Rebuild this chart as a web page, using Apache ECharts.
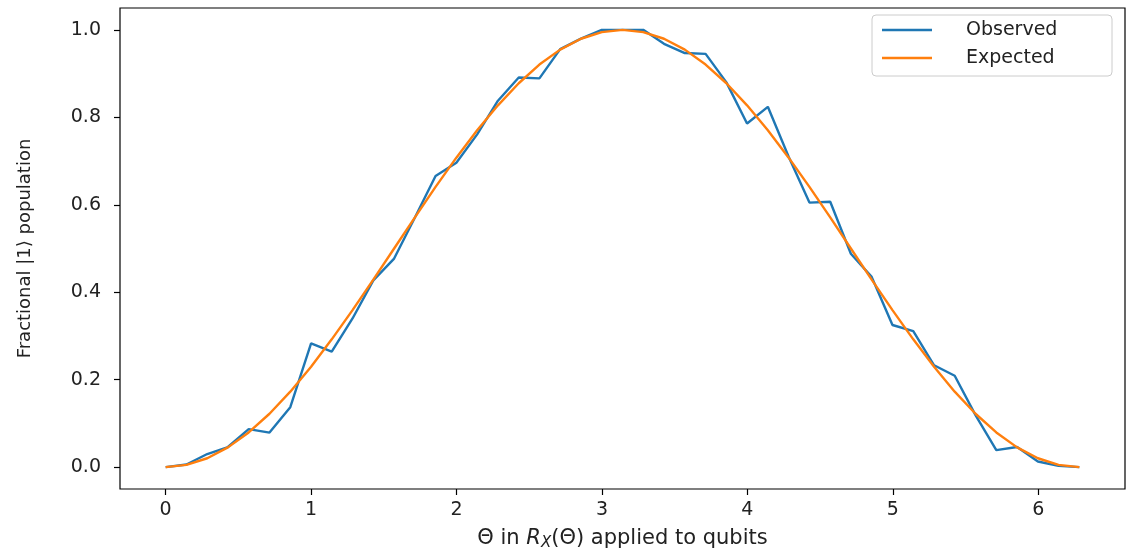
<!DOCTYPE html>
<html>
<head>
<meta charset="utf-8">
<script src="https://cdn.jsdelivr.net/npm/echarts@6/dist/echarts.min.js"></script>
<style>
    html, body { margin: 0; padding: 0; background: #fff; }
    #chart { width: 1129px; height: 552px; }
</style>
</head>
<body>
<div id="chart"></div>
<script>
// 横轴 theta (0 .. 2pi, 45 points)
var thetas = [0.000, 0.143, 0.286, 0.428, 0.571, 0.714, 0.857, 1.000, 1.142, 1.285, 1.428,
    1.571, 1.714, 1.856, 1.999, 2.142, 2.285, 2.428, 2.570, 2.713, 2.856, 2.999,
    3.142, 3.284, 3.427, 3.570, 3.713, 3.856, 3.998, 4.141, 4.284, 4.427, 4.570,
    4.712, 4.855, 4.998, 5.141, 5.284, 5.426, 5.569, 5.712, 5.855, 5.998, 6.140, 6.283];

// 观测值
var observed = [0.000, 0.006, 0.030, 0.046, 0.087, 0.079, 0.137, 0.283, 0.264, 0.340, 0.427,
    0.477, 0.571, 0.666, 0.696, 0.761, 0.838, 0.891, 0.889, 0.956, 0.980, 1.000,
    1.000, 1.000, 0.968, 0.947, 0.945, 0.880, 0.786, 0.824, 0.710, 0.605, 0.607,
    0.488, 0.435, 0.325, 0.311, 0.233, 0.209, 0.119, 0.039, 0.046, 0.013, 0.003, 0.000];

// 期望值
var expected = [0.0000, 0.0051, 0.0203, 0.0452, 0.0794, 0.1221, 0.1726, 0.2297, 0.2923, 0.3591, 0.4288,
    0.5000, 0.5712, 0.6409, 0.7077, 0.7703, 0.8274, 0.8779, 0.9206, 0.9548, 0.9797, 0.9949,
    1.0000, 0.9949, 0.9797, 0.9548, 0.9206, 0.8779, 0.8274, 0.7703, 0.7077, 0.6409, 0.5712,
    0.5000, 0.4288, 0.3591, 0.2923, 0.2297, 0.1726, 0.1221, 0.0794, 0.0452, 0.0203, 0.0051, 0.0000];

var xTicks = [0, 1, 2, 3, 4, 5, 6];
var yTicks = [0, 0.2, 0.4, 0.6, 0.8, 1.0];

function pairs(xs, ys) {
    var out = [];
    for (var i = 0; i < xs.length; i++) {
        out.push([xs[i], ys[i]]);
    }
    return out;
}

var chart = echarts.init(document.getElementById('chart'));

var option = {
    animation: false,
    color: ['#1f77b4', '#ff7f0e'],
    grid: {
        left: 120,
        right: 4,
        top: 8,
        bottom: 63,
        outerBoundsMode: 'none',
        show: true,
        borderColor: '#000',
        borderWidth: 1.2,
        backgroundColor: '#fff'
    },
    legend: {
        orient: 'vertical',
        left: 872,
        top: 15,
        icon: 'rect',
        itemWidth: 50,
        itemHeight: 2.6,
        itemGap: 8,
        padding: [5, 12, 8, 10],
        backgroundColor: '#fff',
        borderColor: '#cccccc',
        borderWidth: 1,
        borderRadius: 4,
        textStyle: {
            fontFamily: 'DejaVu Sans',
            fontSize: 19,
            color: '#222',
            lineHeight: 20,
            padding: [0, 0, 0, 29],
            width: 134
        },
        data: ['Observed', 'Expected']
    },
    xAxis: {
        type: 'value',
        min: -0.314,
        max: 6.597,
        name: '{a|Θ in }{i|R}{s|X}{a|(Θ) applied to qubits}',
        nameLocation: 'middle',
        nameGap: 38,
        nameTextStyle: {
            rich: {
                a: { fontFamily: 'DejaVu Sans', fontSize: 21, color: '#222' },
                i: { fontFamily: 'DejaVu Sans', fontStyle: 'italic', fontSize: 21, color: '#222' },
                s: { fontFamily: 'DejaVu Sans', fontStyle: 'italic', fontSize: 15, color: '#222', padding: [9, 0, 0, 0] }
            }
        },
        splitLine: { show: false },
        axisLine: { show: false, onZero: false },
        axisTick: {
            show: true,
            length: 6,
            customValues: xTicks,
            lineStyle: { color: '#000', width: 1.2 }
        },
        axisLabel: {
            customValues: xTicks,
            margin: 12,
            fontFamily: 'DejaVu Sans',
            fontSize: 19,
            color: '#222'
        }
    },
    yAxis: {
        type: 'value',
        min: -0.05,
        max: 1.05,
        name: 'Fractional |1⟩ population',
        nameLocation: 'middle',
        nameGap: 86,
        nameTextStyle: {
            fontFamily: 'DejaVu Sans',
            fontSize: 18,
            color: '#222'
        },
        splitLine: { show: false },
        axisLine: { show: false, onZero: false },
        axisTick: {
            show: true,
            length: 6,
            customValues: yTicks,
            lineStyle: { color: '#000', width: 1.2 }
        },
        axisLabel: {
            customValues: yTicks,
            margin: 19,
            fontFamily: 'DejaVu Sans',
            fontSize: 19,
            color: '#222',
            formatter: function (v) { return v.toFixed(1); }
        }
    },
    series: [{
        name: 'Observed',
        type: 'line',
        data: pairs(thetas, observed),
        symbol: 'none',
        lineStyle: { width: 2.4, color: '#1f77b4' }
    }, {
        name: 'Expected',
        type: 'line',
        data: pairs(thetas, expected),
        symbol: 'none',
        lineStyle: { width: 2.4, color: '#ff7f0e' }
    }]
};

chart.setOption(option);
</script>
</body>
</html>
